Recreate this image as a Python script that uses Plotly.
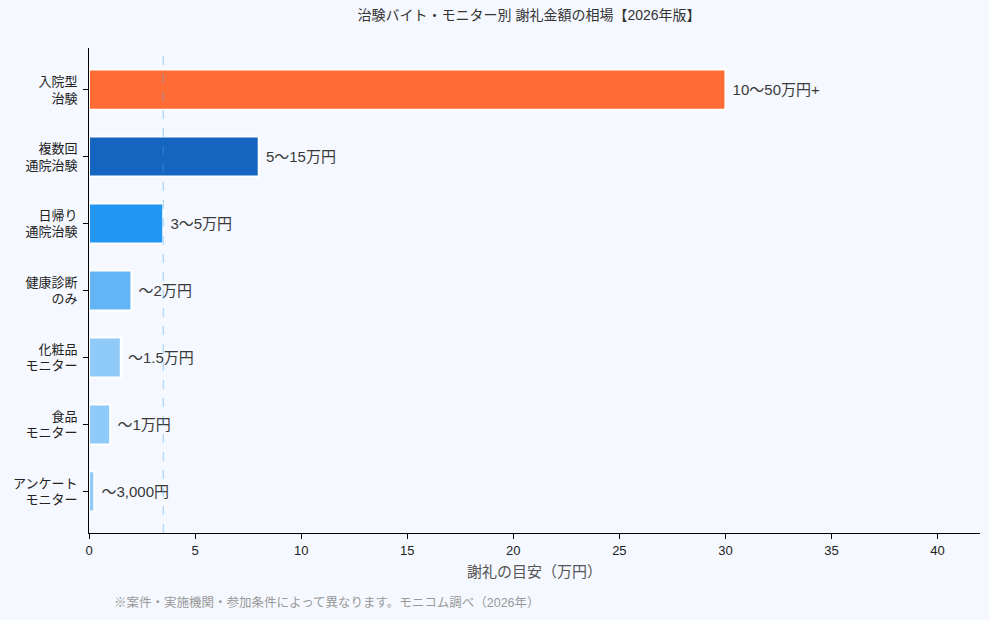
import plotly.graph_objects as go

categories = ["入院型<br>治験", "複数回<br>通院治験", "日帰り<br>通院治験", "健康診断<br>のみ",
              "化粧品<br>モニター", "食品<br>モニター", "アンケート<br>モニター"]
values = [30, 8, 3.5, 2, 1.5, 1, 0.25]
labels = ["10〜50万円+", "5〜15万円", "3〜5万円", "〜2万円", "〜1.5万円", "〜1万円", "〜3,000円"]
colors = ["#FF6B35", "#1565C0", "#2196F3", "#64B5F6", "#90CAF9", "#90CAF9", "#90CAF9"]
ref_value = 3.5
x_ticks = [0, 5, 10, 15, 20, 25, 30, 35, 40]

FONT = "Liberation Sans, Noto Sans CJK JP"

fig = go.Figure()
fig.add_trace(go.Bar(
    y=categories, x=values, orientation="h",
    marker=dict(color=colors, line=dict(color="white", width=2)),
    width=0.6,
    text=["\u00a0" + t for t in labels], textposition="outside",
    textfont=dict(size=15, color="#3a3a3a", family=FONT),
    cliponaxis=False,
    showlegend=False,
))

fig.add_shape(type="line", x0=ref_value, x1=ref_value, y0=0, y1=1, yref="paper",
              line=dict(color="rgba(66,160,240,0.5)", width=1, dash="dash"))

fig.update_layout(
    width=989, height=620,
    margin=dict(l=89, r=9, t=48, b=87),
    paper_bgcolor="#F5F8FF", plot_bgcolor="#F5F8FF",
    font=dict(family=FONT, color="#333333"),
    title=dict(text="治験バイト・モニター別 謝礼金額の相場【2026年版】",
               x=0.535, xanchor="center", y=0.983, yanchor="top",
               font=dict(size=14, color="#333333", family=FONT)),
    xaxis=dict(range=[0, 42], tickvals=x_ticks, showgrid=False, zeroline=False,
               showline=True, linecolor="#000000", linewidth=1,
               ticks="outside", ticklen=5, tickcolor="#000000",
               tickfont=dict(size=13, color="#222222"),
               title=dict(text="謝礼の目安（万円）", font=dict(size=15, color="#555555"), standoff=9)),
    yaxis=dict(categoryorder="array", categoryarray=categories,
               range=[6.62, -0.62], showgrid=False, zeroline=False,
               showline=True, linecolor="#000000", linewidth=1,
               ticks="outside", ticklen=5, tickcolor="#000000",
               ticklabelstandoff=3,
               tickfont=dict(size=13, color="#222222")),
    annotations=[dict(text="※案件・実施機関・参加条件によって異なります。モニコム調べ（2026年）",
                      xref="paper", yref="paper", x=0.026, y=-0.143,
                      xanchor="left", yanchor="middle", showarrow=False,
                      font=dict(size=12.5, color="#999999", family=FONT))],
)

fig.write_html("out.html")
